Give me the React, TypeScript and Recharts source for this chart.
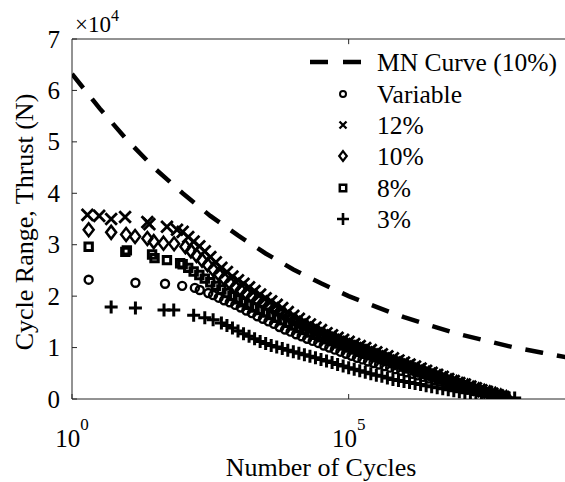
import { ReferenceLine, Scatter, ScatterChart, XAxis, YAxis } from "recharts";

const FONT = "'Liberation Serif', 'Times New Roman', serif";
const INK = "#000";
const AXIS = "#262626";

// cycles of the dense part of the tests (log spaced)
const denseCyclesA = [
  100, 126, 158, 200, 251, 316, 398, 501, 631, 794,
  1000, 1259, 1585, 1995, 2512, 3162, 3981, 5012, 6310, 7943,
  1e4, 1.259e4, 1.585e4, 1.995e4, 2.512e4, 3.162e4, 3.981e4, 5.012e4, 6.31e4, 7.943e4,
  1e5, 1.259e5, 1.585e5, 1.995e5, 2.512e5, 3.162e5, 3.981e5, 5.012e5, 6.31e5, 7.943e5,
  1e6, 1.259e6, 1.585e6, 1.995e6, 2.512e6, 3.162e6, 3.981e6, 5.012e6, 6.31e6, 7.943e6,
  1e7, 1.259e7, 1.585e7, 1.995e7, 2.512e7, 3.162e7, 3.981e7, 5.012e7, 6.31e7, 7.943e7,
  1e8,
];
const denseCyclesB = [
  112, 141, 178, 224, 282, 355, 447, 562, 708, 891,
  1122, 1413, 1778, 2239, 2818, 3548, 4467, 5623, 7079, 8913,
  1.122e4, 1.413e4, 1.778e4, 2.239e4, 2.818e4, 3.548e4, 4.467e4, 5.623e4, 7.079e4, 8.913e4,
  1.122e5, 1.413e5, 1.778e5, 2.239e5, 2.818e5, 3.548e5, 4.467e5, 5.623e5, 7.079e5, 8.913e5,
  1.122e6, 1.413e6, 1.778e6, 2.239e6, 2.818e6, 3.548e6, 4.467e6, 5.623e6, 7.079e6, 8.913e6,
  1.122e7, 1.413e7, 1.778e7, 2.239e7, 2.818e7, 3.548e7, 4.467e7, 5.623e7, 7.079e7, 8.913e7,
];

// thrust range in units of 1e4 N
const variableHeadCycles = [2, 14, 48, 98, 166, 204, 290];
const variableHeadRange = [2.32, 2.26, 2.24, 2.2, 2.16, 2.12, 2.06];
const variableDenseStart = 5;
const variableRange = [
  2.02, 1.97, 1.92, 1.88, 1.83,
  1.78, 1.72, 1.67, 1.61, 1.56, 1.51, 1.46, 1.4, 1.35, 1.31,
  1.26, 1.22, 1.17, 1.13, 1.09, 1.04, 1.0, 0.96, 0.92, 0.88,
  0.84, 0.8, 0.77, 0.73, 0.7, 0.67, 0.64, 0.61, 0.58, 0.55,
  0.52, 0.49, 0.46, 0.43, 0.4, 0.37, 0.34, 0.31, 0.28, 0.25,
  0.22, 0.19, 0.16, 0.14, 0.12, 0.09, 0.07, 0.04,
];

const twelveHeadCycles = [1.9, 3.1, 5.1, 9.1, 23, 25, 52, 79];
const twelveHeadRange = [3.58, 3.56, 3.5, 3.54, 3.44, 3.4, 3.35, 3.29];
const twelveDenseStart = 0;
const twelveRange = [
  3.25, 3.15, 3.06, 2.97, 2.87, 2.76, 2.66, 2.55, 2.47, 2.38,
  2.31, 2.24, 2.17, 2.1, 2.03, 1.96, 1.9, 1.83, 1.77, 1.69,
  1.62, 1.56, 1.5, 1.45, 1.39, 1.34, 1.28, 1.24, 1.19, 1.15,
  1.11, 1.07, 1.03, 0.99, 0.95, 0.91, 0.87, 0.83, 0.79, 0.75,
  0.71, 0.67, 0.63, 0.59, 0.55, 0.51, 0.47, 0.43, 0.39, 0.35,
  0.31, 0.28, 0.24, 0.21, 0.17, 0.14, 0.1, 0.07, 0.04,
];

const tenHeadCycles = [2, 5.1, 9.5, 13.8, 23, 30, 45, 70];
const tenHeadRange = [3.29, 3.24, 3.2, 3.16, 3.12, 3.06, 3.03, 3.02];
const tenDenseStart = 0;
const tenRange = [
  2.96, 2.88, 2.79, 2.7, 2.61, 2.52, 2.43, 2.34, 2.26, 2.18,
  2.12, 2.05, 1.99, 1.93, 1.87, 1.81, 1.75, 1.69, 1.63, 1.57,
  1.51, 1.45, 1.4, 1.35, 1.3, 1.25, 1.21, 1.17, 1.12, 1.08,
  1.04, 1.0, 0.96, 0.92, 0.88, 0.84, 0.8, 0.76, 0.72, 0.69,
  0.65, 0.61, 0.57, 0.54, 0.5, 0.46, 0.43, 0.39, 0.35, 0.32,
  0.28, 0.25, 0.21, 0.18, 0.15, 0.12, 0.09, 0.06, 0.03,
];

const eightHeadCycles = [2, 9.2, 9.8, 28, 31, 52, 90];
const eightHeadRange = [2.96, 2.86, 2.89, 2.81, 2.74, 2.7, 2.64];
const eightDenseStart = 0;
const eightRange = [
  2.62, 2.55, 2.48, 2.41, 2.34, 2.27, 2.2, 2.13, 2.06, 2.0,
  1.94, 1.88, 1.83, 1.78, 1.73, 1.68, 1.63, 1.58, 1.53, 1.48,
  1.43, 1.38, 1.34, 1.29, 1.25, 1.2, 1.16, 1.12, 1.08, 1.04,
  1.0, 0.96, 0.92, 0.88, 0.85, 0.81, 0.77, 0.74, 0.7, 0.67,
  0.63, 0.6, 0.56, 0.53, 0.49, 0.46, 0.43, 0.39, 0.36, 0.33,
  0.29, 0.26, 0.23, 0.19, 0.16, 0.13, 0.1, 0.07, 0.04,
];

const threeHeadCycles = [5.1, 14, 46, 69, 158, 251, 355];
const threeHeadRange = [1.79, 1.77, 1.73, 1.73, 1.63, 1.58, 1.54];
const threeDenseStart = 7;
const threeRange = [
  1.48, 1.43, 1.38,
  1.32, 1.27, 1.22, 1.17, 1.12, 1.08, 1.04, 1.01, 0.98, 0.95,
  0.92, 0.89, 0.86, 0.83, 0.8, 0.77, 0.74, 0.71, 0.67, 0.64,
  0.61, 0.58, 0.55, 0.52, 0.49, 0.46, 0.44, 0.41, 0.38, 0.36,
  0.34, 0.32, 0.3, 0.28, 0.26, 0.24, 0.22, 0.2, 0.18, 0.16,
  0.14, 0.12, 0.11, 0.09, 0.08, 0.06, 0.05, 0.04, 0.03, 0.02,
  0.02,
];

const mnCycles = [1, 3.16, 10, 31.6, 100, 316, 1e3, 3.16e3, 1e4, 3.16e4, 1e5, 3.16e5, 1e6, 3.16e6, 1e7, 3.16e7, 1e8, 3.16e8, 1e9];
const mnRange = [6.32, 5.65, 5.03, 4.48, 4.0, 3.56, 3.18, 2.83, 2.52, 2.25, 2.0, 1.79, 1.59, 1.42, 1.26, 1.13, 1.0, 0.9, 0.8];

const xTicks = [1, 1e5];
const yTicks = [0, 1, 2, 3, 4, 5, 6, 7];

type Pt = { cycles: number; range: number };

const build = (headC: number[], headR: number[], cycles: number[], start: number, dense: number[]): Pt[] => [
  ...headC.map((c, i) => ({ cycles: c, range: headR[i] })),
  ...dense.map((r, i) => ({ cycles: cycles[start + i], range: r })),
];

const variableData = build(variableHeadCycles, variableHeadRange, denseCyclesB, variableDenseStart, variableRange);
const twelveData = build(twelveHeadCycles, twelveHeadRange, denseCyclesA, twelveDenseStart, twelveRange);
const tenData = build(tenHeadCycles, tenHeadRange, denseCyclesB, tenDenseStart, tenRange);
const eightData = build(eightHeadCycles, eightHeadRange, denseCyclesA, eightDenseStart, eightRange);
const threeData = build(threeHeadCycles, threeHeadRange, denseCyclesA, threeDenseStart, threeRange);
const mnData = mnCycles.map((c, i) => ({ cycles: c, range: mnRange[i] }));

const circlePath = (x: number, y: number, r: number) =>
  `M${x - r},${y}a${r},${r} 0 1,0 ${2 * r},0a${r},${r} 0 1,0 ${-2 * r},0`;
const crossPath = (x: number, y: number, s: number) =>
  `M${x - s},${y - s}L${x + s},${y + s}M${x + s},${y - s}L${x - s},${y + s}`;
const diamondPath = (x: number, y: number, s: number) =>
  `M${x},${y - s * 1.3}L${x + s},${y}L${x},${y + s * 1.3}L${x - s},${y}Z`;
const squarePath = (x: number, y: number, s: number) =>
  `M${x - s},${y - s}H${x + s}V${y + s}H${x - s}Z`;
const plusPath = (x: number, y: number, s: number) =>
  `M${x - s},${y}H${x + s}M${x},${y - s}V${y + s}`;

const markers: Record<string, { d: (x: number, y: number, s: number) => string; size: number; legendSize: number; width: number; legendWidth: number }> = {
  circle: { d: circlePath, size: 4, legendSize: 3, width: 2.4, legendWidth: 2 },
  cross: { d: crossPath, size: 5.8, legendSize: 3.5, width: 2.8, legendWidth: 2.3 },
  diamond: { d: diamondPath, size: 5, legendSize: 3.8, width: 2.5, legendWidth: 2.2 },
  square: { d: squarePath, size: 3.7, legendSize: 3.2, width: 3, legendWidth: 2.5 },
  plus: { d: plusPath, size: 6.5, legendSize: 6, width: 3, legendWidth: 2.6 },
};

const markerShape = (kind: string) => (props: any) => {
  const m = markers[kind];
  if (props.cx == null || props.cy == null) return <g />;
  return <path d={m.d(props.cx, props.cy, m.size)} fill="none" stroke={INK} strokeWidth={m.width} />;
};

const legendRows = [
  { label: "MN Curve (10%)", kind: "dash", y: 62 },
  { label: "Variable", kind: "circle", y: 94 },
  { label: "12%", kind: "cross", y: 125 },
  { label: "10%", kind: "diamond", y: 156 },
  { label: "8%", kind: "square", y: 188 },
  { label: "3%", kind: "plus", y: 219 },
];

const XTick = ({ x, y, payload }: any) => {
  const exp = Math.round(Math.log10(payload.value));
  return (
    <g>
      <line x1={x} x2={x} y1={y} y2={y - 5} stroke={AXIS} strokeWidth={1} />
      <text x={x} y={y + 48} textAnchor="middle" fontSize={25} fontFamily={FONT} fill={INK}>
        10
        <tspan dy={-17} fontSize={17}>
          {exp}
        </tspan>
      </text>
    </g>
  );
};

const YTick = ({ x, y, payload }: any) => (
  <g>
    <line x1={x} x2={x + 5} y1={y} y2={y} stroke={AXIS} strokeWidth={1} />
    <text x={x - 12} y={y + 8.5} textAnchor="end" fontSize={25} fontFamily={FONT} fill={INK}>
      {payload.value}
    </text>
  </g>
);

const App = () => {
  return (
    <div style={{ position: "fixed", left: 0, top: 0, width: 565, height: 482, overflow: "hidden", background: "#fff" }}>
      <ScatterChart width={575} height={482} margin={{ top: 39, right: 5, bottom: 33, left: 0 }}>
        <XAxis
          type="number"
          dataKey="cycles"
          scale="log"
          domain={[1, 1e9]}
          allowDataOverflow
          ticks={xTicks}
          interval={0}
          tickSize={0}
          tickMargin={0}
          tick={<XTick />}
          height={50}
          axisLine={{ stroke: AXIS, strokeWidth: 1 }}
          label={{
            content: ({ viewBox }: any) => (
              <text x={viewBox.x + viewBox.width / 2} y={476} textAnchor="middle" fontSize={26} fontFamily={FONT} fill={INK}>
                Number of Cycles
              </text>
            ),
          }}
        />
        <YAxis
          type="number"
          dataKey="range"
          domain={[0, 7]}
          allowDataOverflow
          ticks={yTicks}
          interval={0}
          tickSize={0}
          tickMargin={0}
          tick={<YTick />}
          width={72}
          axisLine={{ stroke: AXIS, strokeWidth: 1 }}
          label={{
            content: () => (
              <text x={33} y={222} transform="rotate(-90, 33, 222)" textAnchor="middle" fontSize={26} fontFamily={FONT} fill={INK}>
                Cycle Range, Thrust (N)
              </text>
            ),
          }}
        />
        <ReferenceLine y={7} stroke={AXIS} strokeWidth={1} />
        <ReferenceLine segment={[{ x: 1e5, y: 7 }, { x: 1e5, y: 6.9 }]} stroke={AXIS} strokeWidth={1} />
        <Scatter
          name="MN Curve (10%)"
          data={mnData}
          fill="none"
          line={{ stroke: INK, strokeWidth: 4.5, strokeDasharray: "18 14" }}
          lineType="joint"
          shape={() => <g />}
          isAnimationActive={false}
        />
        <Scatter name="Variable" data={variableData} shape={markerShape("circle")} isAnimationActive={false} />
        <Scatter name="12%" data={twelveData} shape={markerShape("cross")} isAnimationActive={false} />
        <Scatter name="10%" data={tenData} shape={markerShape("diamond")} isAnimationActive={false} />
        <Scatter name="8%" data={eightData} shape={markerShape("square")} isAnimationActive={false} />
        <Scatter name="3%" data={threeData} shape={markerShape("plus")} isAnimationActive={false} />
      </ScatterChart>
      <svg width={565} height={482} style={{ position: "absolute", left: 0, top: 0, pointerEvents: "none" }}>
        <text x={75} y={32} fontSize={23} fontFamily={FONT} fill={INK}>
          ×10
          <tspan dy={-11} fontSize={16}>
            4
          </tspan>
        </text>
        {legendRows.map((row) => (
          <g key={row.label}>
            {row.kind === "dash" ? (
              <line x1={310} x2={361} y1={row.y} y2={row.y} stroke={INK} strokeWidth={4.5} strokeDasharray="18 15" />
            ) : (
              <path
                d={markers[row.kind].d(343, row.y, markers[row.kind].legendSize)}
                fill="none"
                stroke={INK}
                strokeWidth={markers[row.kind].legendWidth}
              />
            )}
            <text x={377} y={row.y + 8.5} fontSize={25.5} fontFamily={FONT} fill={INK}>
              {row.label}
            </text>
          </g>
        ))}
      </svg>
    </div>
  );
};

export default App;
